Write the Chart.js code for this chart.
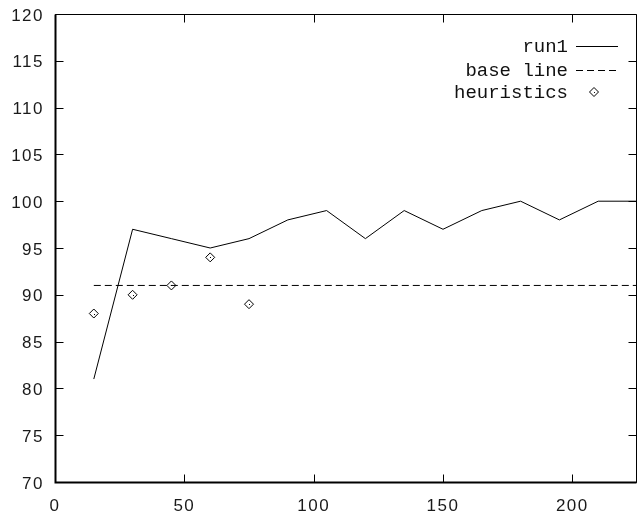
<!DOCTYPE html>
<html>
<head>
<meta charset="utf-8">
<script src="https://cdn.jsdelivr.net/npm/chart.js@4.4.1/dist/chart.umd.min.js"></script>
<style>
  html, body { margin: 0; padding: 0; background: #ffffff; }
  #wrap { width: 638px; height: 520px; }
</style>
</head>
<body>
<div id="wrap"><canvas id="c" width="638" height="520"></canvas></div>
<script>
// ---- data ----
const runX = [15, 30, 45, 60, 75, 90, 105, 120, 135, 150, 165, 180, 195, 210, 225];
const runY = [81, 97, 96, 95, 96, 98, 99, 96, 99, 97, 99, 100, 98, 100, 100];
const baseX = [15, 225];
const baseY = [91, 91];
const heurX = [15, 30, 45, 60, 75];
const heurY = [88, 90, 91, 94, 89];
const xTicks = [0, 50, 100, 150, 200];
const yTicks = [70, 75, 80, 85, 90, 95, 100, 105, 110, 115, 120];
const seriesNames = ['run1', 'base line', 'heuristics'];

const toPts = (xs, ys) => xs.map((x, i) => ({ x: x, y: ys[i] }));

const INK = '#000000';
const SPACING = '1.5px';

const framePlugin = {
  id: 'frame',
  beforeDraw(chart) {
    const ctx = chart.ctx;
    ctx.save();
    ctx.fillStyle = '#ffffff';
    ctx.fillRect(0, 0, chart.width, chart.height);
    ctx.restore();
    ctx.letterSpacing = SPACING;
  },
  afterDraw(chart) {
    const ctx = chart.ctx;
    const a = chart.chartArea;
    const xs = chart.scales.x, ys = chart.scales.y;
    ctx.save();
    ctx.strokeStyle = INK;
    ctx.lineWidth = 1;
    const L = Math.round(a.left) + 0.5, R = Math.round(a.right) - 0.5;
    const T = Math.round(a.top) + 0.5, B = Math.round(a.bottom) + 0.5;
    ctx.beginPath();
    ctx.rect(L, T, R - L, B - T);
    ctx.stroke();
    ctx.lineWidth = 2;
    ctx.beginPath();
    ctx.moveTo(L, T); ctx.lineTo(L, B); ctx.lineTo(R, B);
    ctx.stroke();
    ctx.lineWidth = 1;
    const tl = 8;
    ctx.beginPath();
    yTicks.forEach(v => {
      const y = Math.round(ys.getPixelForValue(v)) + 0.5;
      ctx.moveTo(L, y); ctx.lineTo(L + tl, y);
      ctx.moveTo(R, y); ctx.lineTo(R - tl, y);
    });
    xTicks.forEach(v => {
      const x = Math.round(xs.getPixelForValue(v)) + 0.5;
      ctx.moveTo(x, B); ctx.lineTo(x, B - tl);
      ctx.moveTo(x, T); ctx.lineTo(x, T + tl);
    });
    ctx.stroke();

    ctx.fillStyle = INK;
    chart.getDatasetMeta(2).data.forEach(p => {
      ctx.fillRect(Math.round(p.x), Math.round(p.y), 1, 1);
    });

    // gnuplot-style key
    ctx.font = '19px "Liberation Mono", "Courier New", monospace';
    ctx.letterSpacing = '0px';
    ctx.textAlign = 'right';
    ctx.textBaseline = 'middle';
    ctx.fillStyle = '#111';
    const textRight = 568, sx0 = 576, sx1 = 618;
    const rows = [46, 70, 92];
    seriesNames.forEach((name, i) => {
      ctx.fillText(name, textRight, rows[i] + 1);
    });
    ctx.lineWidth = 1;
    ctx.beginPath();
    ctx.moveTo(sx0, rows[0] + 0.5); ctx.lineTo(sx1, rows[0] + 0.5);
    ctx.stroke();
    ctx.setLineDash([7, 4]);
    ctx.beginPath();
    ctx.moveTo(sx0, rows[1] + 0.5); ctx.lineTo(sx1, rows[1] + 0.5);
    ctx.stroke();
    ctx.setLineDash([]);
    const dx = 594, dy = rows[2], r = 4.5;
    ctx.beginPath();
    ctx.moveTo(dx - r, dy); ctx.lineTo(dx, dy - r); ctx.lineTo(dx + r, dy); ctx.lineTo(dx, dy + r);
    ctx.closePath();
    ctx.stroke();
    ctx.fillRect(dx, dy, 1, 1);
    ctx.restore();
  }
};

new Chart(document.getElementById('c'), {
  type: 'scatter',
  data: {
    datasets: [
      {
        label: seriesNames[0],
        data: toPts(runX, runY),
        showLine: true,
        borderColor: INK,
        borderWidth: 1,
        pointRadius: 0,
        fill: false,
        tension: 0
      },
      {
        label: seriesNames[1],
        data: toPts(baseX, baseY),
        showLine: true,
        borderColor: INK,
        borderWidth: 1,
        borderDash: [7, 4],
        pointRadius: 0,
        fill: false
      },
      {
        label: seriesNames[2],
        data: toPts(heurX, heurY),
        showLine: false,
        pointStyle: 'rectRot',
        pointRadius: 4.5,
        pointBorderWidth: 1,
        pointBorderColor: INK,
        pointBackgroundColor: 'rgba(255,255,255,0)'
      }
    ]
  },
  options: {
    responsive: false,
    animation: false,
    events: [],
    layout: { autoPadding: false, padding: { top: 14, right: 1, left: 0, bottom: 0 } },
    plugins: {
      legend: { display: false },
      tooltip: { enabled: false }
    },
    scales: {
      x: {
        type: 'linear',
        min: 0,
        max: 225,
        border: { display: false },
        grid: { display: false, drawTicks: false },
        afterFit: s => { s.height = 38; s.paddingLeft = 0; s.paddingRight = 0; s.paddingTop = 0; s.paddingBottom = 0; },
        afterBuildTicks: s => { s.ticks = xTicks.map(v => ({ value: v })); },
        ticks: {
          color: '#1a1a1a',
          font: { family: '"Liberation Sans", Arial, sans-serif', size: 17 },
          padding: 14,
          maxRotation: 0,
          callback: v => String(v)
        }
      },
      y: {
        type: 'linear',
        min: 70,
        max: 120,
        border: { display: false },
        grid: { display: false, drawTicks: false },
        afterFit: s => { s.width = 55; s.paddingLeft = 0; s.paddingRight = 0; s.paddingTop = 0; s.paddingBottom = 0; },
        afterBuildTicks: s => { s.ticks = yTicks.map(v => ({ value: v })); },
        ticks: {
          color: '#1a1a1a',
          font: { family: '"Liberation Sans", Arial, sans-serif', size: 17 },
          padding: 11,
          labelOffset: 2,
          callback: v => String(v)
        }
      }
    }
  },
  plugins: [framePlugin]
});
</script>
</body>
</html>
